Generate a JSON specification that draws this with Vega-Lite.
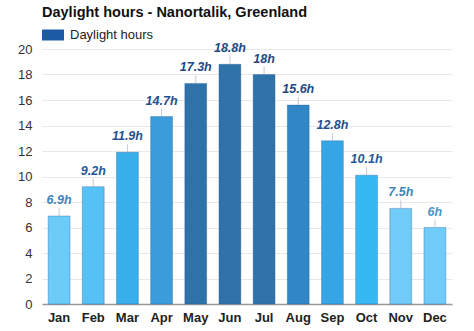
{
  "$schema": "https://vega.github.io/schema/vega-lite/v6.json",
  "autosize": "none",
  "width": 410,
  "height": 255,
  "padding": {"left": 42, "top": 49, "right": 22, "bottom": 27},
  "background": "white",
  "title": {
    "text": "Daylight hours - Nanortalik, Greenland",
    "anchor": "start",
    "frame": "group",
    "font": "Liberation Sans",
    "fontSize": 14.5,
    "fontWeight": "bold",
    "color": "#111111",
    "offset": 4
  },
  "config": {
    "view": {"stroke": null},
    "font": "Liberation Sans"
  },
  "data": {
    "values": [
      {"month": "Jan", "hours": 6.9, "label": "6.9h"},
      {"month": "Feb", "hours": 9.2, "label": "9.2h"},
      {"month": "Mar", "hours": 11.9, "label": "11.9h"},
      {"month": "Apr", "hours": 14.7, "label": "14.7h"},
      {"month": "May", "hours": 17.3, "label": "17.3h"},
      {"month": "Jun", "hours": 18.8, "label": "18.8h"},
      {"month": "Jul", "hours": 18, "label": "18h"},
      {"month": "Aug", "hours": 15.6, "label": "15.6h"},
      {"month": "Sep", "hours": 12.8, "label": "12.8h"},
      {"month": "Oct", "hours": 10.1, "label": "10.1h"},
      {"month": "Nov", "hours": 7.5, "label": "7.5h"},
      {"month": "Dec", "hours": 6, "label": "6h"}
    ]
  },
  "encoding": {
    "x": {
      "field": "month",
      "type": "nominal",
      "sort": null,
      "scale": {"paddingInner": 0.36, "paddingOuter": 0.18},
      "axis": {
        "title": null,
        "labelAngle": 0,
        "labelFont": "Liberation Sans",
        "labelFontSize": 13,
        "labelFontWeight": "bold",
        "labelColor": "#222222",
        "labelPadding": 7,
        "ticks": false,
        "domainColor": "#999999",
        "domainWidth": 1.5,
        "grid": false
      }
    },
    "y": {
      "field": "hours",
      "type": "quantitative",
      "scale": {"domain": [0, 20], "nice": false},
      "axis": {
        "title": null,
        "values": [0, 2, 4, 6, 8, 10, 12, 14, 16, 18, 20],
        "labelFont": "Liberation Sans",
        "labelFontSize": 13,
        "labelColor": "#333333",
        "labelPadding": 10,
        "ticks": false,
        "domain": false,
        "gridColor": "#e8e8e8",
        "gridWidth": 1
      }
    }
  },
  "layer": [
    {
      "mark": {"type": "bar", "strokeWidth": 1, "strokeOpacity": 0.35, "stroke": "#1f5f9a"},
      "encoding": {
        "color": {
          "field": "month",
          "type": "nominal",
          "sort": null,
          "scale": {
            "domain": ["Jan","Feb","Mar","Apr","May","Jun","Jul","Aug","Sep","Oct","Nov","Dec"],
            "range": ["#6ccbf7","#55c1f5","#38aeea","#3a9cdb","#2f72aa","#2f72aa","#2f72aa","#3186c5","#36a5e5","#36b8f3","#70cbf6","#70cbf6"]
          },
          "legend": null
        }
      }
    },
    {
      "mark": {"type": "tick", "orient": "vertical", "size": 8, "yOffset": -4, "color": "#aab4bf", "thickness": 1}
    },
    {
      "mark": {"type": "text", "dy": -16, "font": "Liberation Sans", "fontSize": 12.5, "fontWeight": "bold", "fontStyle": "italic"},
      "encoding": {
        "text": {"field": "label"},
        "fill": {
          "field": "month",
          "type": "nominal",
          "sort": null,
          "scale": {
            "domain": ["Jan","Feb","Mar","Apr","May","Jun","Jul","Aug","Sep","Oct","Nov","Dec"],
            "range": ["#3d86bd","#1f5a98","#1f5090","#1f5090","#1c4a86","#1c4a86","#1c4a86","#1c4a86","#1f5090","#1f5a98","#3d86bd","#4a95c8"]
          },
          "legend": null
        }
      }
    },
    {
      "mark": {"type": "point", "shape": "square", "opacity": 0, "filled": true},
      "encoding": {
        "fill": {
          "datum": "Daylight hours",
          "type": "nominal",
          "scale": {"range": ["#1c5aa6"]},
          "legend": {
            "title": null,
            "orient": "top",
            "direction": "horizontal",
            "symbolType": "M-1,-0.5H1V0.5H-1Z",
            "symbolSize": 484,
            "symbolStrokeWidth": 0,
            "labelFont": "Liberation Sans",
            "labelFontSize": 13,
            "labelColor": "#222222",
            "labelOffset": 6,
            "offset": 7,
            "padding": 0,
            "encode": {
              "symbols": {
                "update": {
                  "opacity": {"value": 1},
                  "fillOpacity": {"value": 1},
                  "size": {"value": 484},
                  "shape": {"value": "M-1,-0.5H1V0.5H-1Z"}
                }
              }
            }
          }
        }
      }
    }
  ],
  "resolve": {"scale": {"color": "independent", "fill": "independent", "stroke": "independent"}}
}
